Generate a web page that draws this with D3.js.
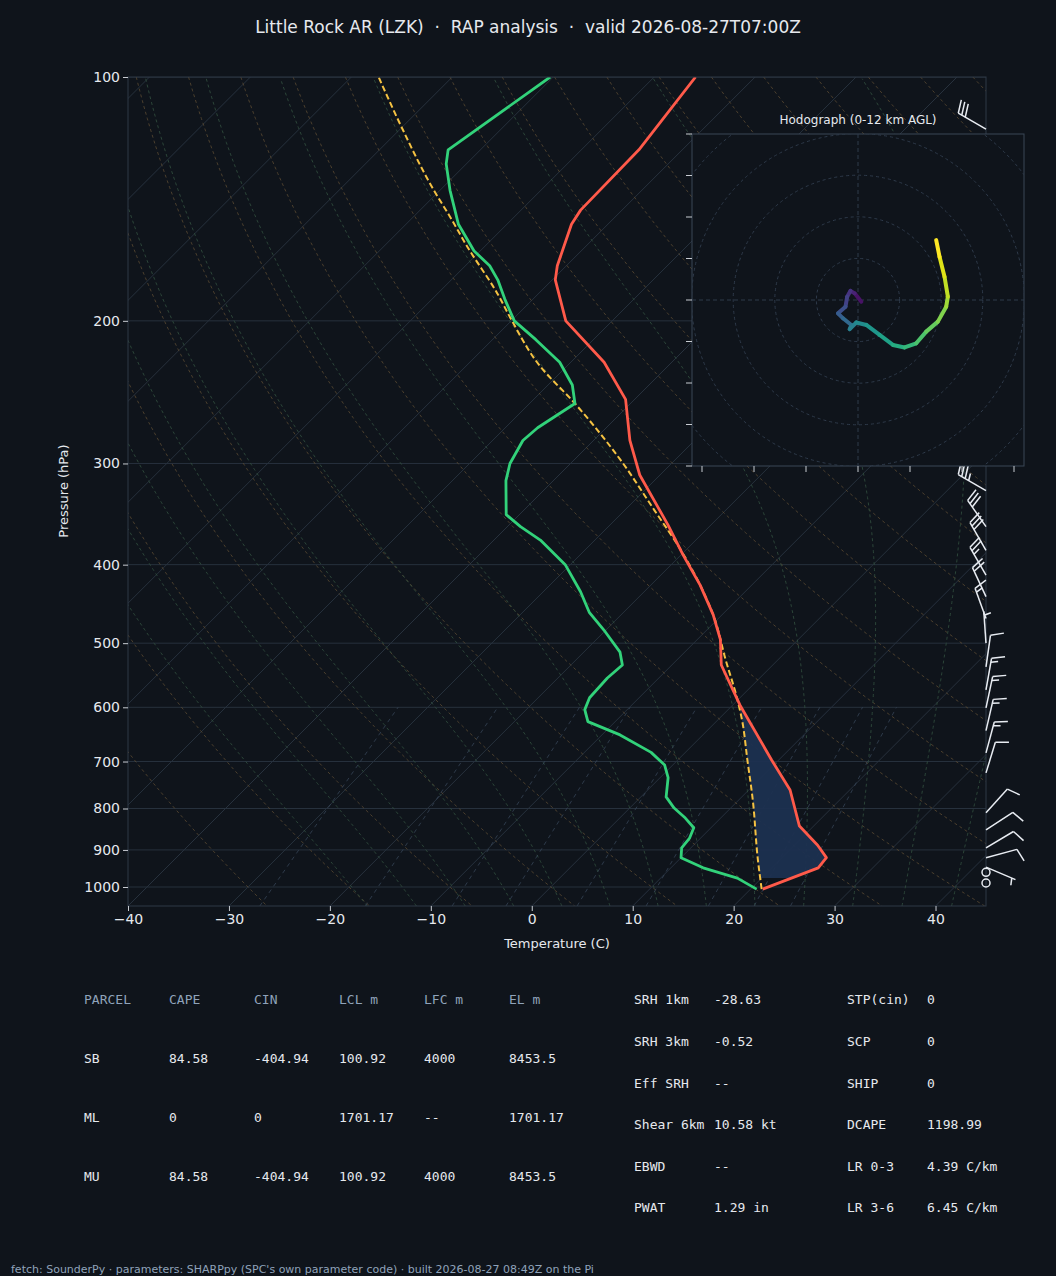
<!DOCTYPE html>
<html><head><meta charset="utf-8">
<script src="https://cdn.jsdelivr.net/npm/d3@7"></script>
<style>
body{margin:0;background:#0f141b;}
text{font-family:"DejaVu Sans",sans-serif;}
.mono{font-family:"DejaVu Sans Mono",monospace;}
</style></head><body>
<svg id="c" width="1056" height="1276"></svg>
<script>
// ---- data ----
var tempP  = [1006,947,920,888,841,759,697,596,532,495,461,424,389,357,310,281,250,225,200,178,171,152,146,123,100];
var tempT  = [21.2,24.6,24.4,22.3,18.6,14.1,9.3,0.7,-5.1,-7.7,-10.9,-15.1,-19.8,-24.3,-32.0,-36.4,-40.9,-46.7,-54.6,-59.7,-60.9,-63.6,-64.1,-64.3,-65.9];
var dewP   = [1006,975,947,920,895,870,845,822,799,774,733,707,682,649,625,604,584,552,532,513,484,458,432,400,373,359,347,315,300,281,271,253,240,225,211,200,188,178,171,164,152,138,128,123,100];
var dewT   = [20.6,17.6,13.2,10.0,9.1,8.9,8.3,6.5,4.4,2.5,0.8,-0.8,-3.4,-8.2,-12.7,-14.2,-14.9,-15.1,-14.9,-16.4,-19.9,-23.4,-26.3,-30.5,-35.4,-38.7,-41.3,-44.7,-46.0,-47.0,-46.8,-45.5,-47.6,-51.1,-55.7,-59.7,-62.8,-65.4,-67.6,-70.6,-74.8,-79.0,-82.0,-83.2,-80.3];
var parcelP = [1006,925,781,697,622,588,524,461,424,383,343,297,253,227,199,185,162,149,137,115,100];
var parcelT = [21.1,17.8,11.4,6.9,2.4,0.0,-5.2,-10.9,-15.1,-20.6,-27.0,-35.4,-45.5,-52.8,-60.2,-64.1,-71.7,-76.3,-81.0,-90.2,-97.3];
var hodoU = [0.8,-0.8,-1.8,-2.6,-3.0,-4.8,-3.6,-1.6,-2.0,-0.4,2.0,5.2,8.4,11.2,14.0,16.4,19.2,21.2,21.6,20.8,19.6,18.8];
var hodoV = [-0.4,1.6,2.2,0.8,-1.6,-3.2,-4.4,-6.0,-7.0,-5.4,-6.0,-8.4,-10.8,-11.4,-10.4,-7.6,-5.2,-1.6,0.8,5.6,10.4,14.4];
var barbP   = [1000,970,945,920,895,850,810,723,683,641,601,571,535,500,466,438,412,384,359,324,290,250,200,150,116];
var barbDir = [0,0,113,75,59,57,42,17,15,13,12,10,8,356,340,335,330,330,325,300,300,300,300,300,300];
var barbSpd = [0,0,5,10,10,10,10,10,15,15,15,15,10,5,15,20,25,30,30,35,35,35,35,30,30];
var pTicks = [100,200,300,400,500,600,700,800,900,1000];
var tTicks = [-40,-30,-20,-10,0,10,20,30,40];
var parcelRows = [["PARCEL","CAPE","CIN","LCL m","LFC m","EL m"],["SB","84.58","-404.94","100.92","4000","8453.5"],["ML","0","0","1701.17","--","1701.17"],["MU","84.58","-404.94","100.92","4000","8453.5"]];
var idxLeft  = [["SRH 1km","-28.63"],["SRH 3km","-0.52"],["Eff SRH","--"],["Shear 6km","10.58 kt"],["EBWD","--"],["PWAT","1.29 in"]];
var idxRight = [["STP(cin)","0"],["SCP","0"],["SHIP","0"],["DCAPE","1198.99"],["LR 0-3","4.39 C/km"],["LR 3-6","6.45 C/km"]];

var svg = d3.select("#c");
var L=128,R=986,T=77,B=906;
var x = d3.scaleLinear().domain([-40,45]).range([L,R]);
var y = d3.scaleLog().domain([100,1000]).range([T,887]);
var pBot = y.invert(B);
function sx(t,p){ return x(t) + (B - y(p)); }
function line(ps,ts,curve){ return d3.line().curve(curve||d3.curveLinear).x(function(d,i){return sx(ts[i],ps[i]);}).y(function(d){return y(d);})(ps); }

svg.append("text").attr("x",528).attr("y",33).attr("text-anchor","middle").attr("fill","#e6e9ee").attr("font-size",17)
  .style("white-space","pre").text("Little Rock AR (LZK)  ·  RAP analysis  ·  valid 2026-08-27T07:00Z");

svg.append("defs").append("clipPath").attr("id","pc").append("rect").attr("x",L).attr("y",T).attr("width",R-L).attr("height",B-T);
var g = svg.append("g").attr("clip-path","url(#pc)");
var pLev = d3.range(0,61).map(function(i){ return 100*Math.pow(pBot/100,i/60); });

// isotherms
d3.range(-130,60,10).forEach(function(t){
  g.append("path").attr("d",line([pBot,100],[t,t])).attr("stroke","#27313d").attr("stroke-width",1).attr("fill","none");
});
pTicks.forEach(function(p){
  g.append("line").attr("x1",L).attr("x2",R).attr("y1",y(p)).attr("y2",y(p)).attr("stroke","#27313d");
});
// dry adiabats
d3.range(-30,220,10).forEach(function(th){
  var ts = pLev.map(function(p){ return (th+273.15)*Math.pow(p/1000,0.2857)-273.15; });
  g.append("path").attr("d",line(pLev,ts)).attr("stroke","#5a4a32").attr("stroke-dasharray","3,3").attr("fill","none").attr("opacity",0.8);
});
// moist adiabats
function es(t){ return 6.112*Math.exp(17.67*t/(t+243.5)); }
function dTdp(Tk,p){
  var rs=0.622*es(Tk-273.15)/(p-es(Tk-273.15)),Rd=287,Lv=2.5e6,Cp=1005;
  return (1/p)*(Rd*Tk+Lv*rs)/(Cp+Lv*Lv*rs*0.622/(Rd*Tk*Tk));
}
d3.range(-20,45,5).forEach(function(t0){
  var ps=[],ts=[],t,p,tt=t0+273.15;
  for(var pp=1000;pp<pBot;pp+=5){ tt+=5*dTdp(tt,pp); }
  t=tt;
  for(p=pBot;p>=100;p-=5){ ps.push(p); ts.push(t-273.15); t-=5*dTdp(t,p); }
  g.append("path").attr("d",line(ps,ts)).attr("stroke","#2f4a3c").attr("stroke-dasharray","3,3").attr("fill","none").attr("opacity",0.9);
});
// mixing ratio
[0.4,1,2,3,5,8,12,16,20].forEach(function(w){
  var ps=[pBot,600],ts=ps.map(function(p){ var e=p*w/(622+w),l=Math.log(e/6.112); return 243.5*l/(17.67-l); });
  g.append("path").attr("d",line(ps,ts)).attr("stroke","#3a4a5e").attr("stroke-dasharray","4,4").attr("fill","none").attr("opacity",0.7);
});

// shading between parcel and temperature
var interp=function(ps,ts,p){ for(var i=0;i<ps.length-1;i++){ if(p<=ps[i]&&p>=ps[i+1]){ var f=Math.log(p/ps[i])/Math.log(ps[i+1]/ps[i]); return ts[i]+f*(ts[i+1]-ts[i]); } } return ts[ts.length-1]; };
var shadeP = d3.range(0,41).map(function(i){ return 975*Math.pow(596/975,i/40); });
var area = shadeP.map(function(p){ return [sx(interp(tempP,tempT,p),p),y(p)]; })
  .concat(shadeP.slice().reverse().map(function(p){ return [sx(interp(parcelP,parcelT,p),p),y(p)]; }));
g.append("path").attr("d",d3.line()(area)+"Z").attr("fill","#1c3050").attr("opacity",0.95);

g.append("path").attr("d",line(parcelP,parcelT,d3.curveMonotoneY)).attr("stroke","#f5c242").attr("stroke-width",2).attr("stroke-dasharray","6,3").attr("fill","none");
g.append("path").attr("d",line(tempP,tempT)).attr("stroke","#ff5a4a").attr("stroke-width",2.8).attr("fill","none").attr("stroke-linejoin","round");
g.append("path").attr("d",line(dewP,dewT)).attr("stroke","#32d27a").attr("stroke-width",2.8).attr("fill","none").attr("stroke-linejoin","round");

svg.append("rect").attr("x",L).attr("y",T).attr("width",R-L).attr("height",B-T).attr("fill","none").attr("stroke","#2e3947");

// axes
var ya = svg.append("g").attr("transform","translate("+L+",0)").call(d3.axisLeft(y).tickValues(pTicks).tickFormat(d3.format("d")).tickSize(5));
var xa = svg.append("g").attr("transform","translate(0,"+B+")").call(d3.axisBottom(x).tickValues(tTicks).tickFormat(function(d){return d<0?"\u2212"+(-d):d;}).tickSize(5));
[ya,xa].forEach(function(a){ a.select(".domain").remove(); a.selectAll("line").attr("stroke","#c8ccd2"); a.selectAll("text").attr("fill","#e6e9ee").attr("font-size",14).attr("font-family","DejaVu Sans"); });
svg.append("text").attr("transform","translate(68,491) rotate(-90)").attr("text-anchor","middle").attr("fill","#e6e9ee").attr("font-size",13).text("Pressure (hPa)");
svg.append("text").attr("x",557).attr("y",948).attr("text-anchor","middle").attr("fill","#e6e9ee").attr("font-size",13).text("Temperature (C)");

// wind barbs
var bg = svg.append("g");
barbP.forEach(function(p,i){
  var bx=R, by=y(p), s=barbSpd[i];
  if(s<2.5){ bg.append("circle").attr("cx",bx).attr("cy",by-4).attr("r",4).attr("fill","none").attr("stroke","#e8ecf2").attr("stroke-width",1.5); return; }
  var a=barbDir[i]*Math.PI/180, dx=Math.sin(a), dy=-Math.cos(a), len=32;
  var tx=bx+dx*len, ty=by+dy*len;
  bg.append("line").attr("x1",bx).attr("y1",by).attr("x2",tx).attr("y2",ty).attr("stroke","#e8ecf2").attr("stroke-width",1.5);
  var px=-dy, py=dx;
  var pos=0, rem=s;
  while(rem>=10){ var ex=tx-dx*pos, ey=ty-dy*pos; bg.append("line").attr("x1",ex).attr("y1",ey).attr("x2",ex+px*13+dx*4).attr("y2",ey+py*13+dy*4).attr("stroke","#e8ecf2").attr("stroke-width",1.5); pos+=4; rem-=10; }
  if(rem>=5){ if(pos===0)pos=4; var ex2=tx-dx*pos, ey2=ty-dy*pos; bg.append("line").attr("x1",ex2).attr("y1",ey2).attr("x2",ex2+px*7+dx*2).attr("y2",ey2+py*7+dy*2).attr("stroke","#e8ecf2").attr("stroke-width",1.5); }
});

// hodograph
var hx=692,hy=134,hs=332,cx=858,cy=300,k=4.16;
var hg=svg.append("g");
hg.append("rect").attr("x",hx).attr("y",hy).attr("width",hs).attr("height",hs).attr("fill","#0f141b").attr("stroke","#3a4656");
hg.append("defs").append("clipPath").attr("id","hc").append("rect").attr("x",hx).attr("y",hy).attr("width",hs).attr("height",hs);
var hc=hg.append("g").attr("clip-path","url(#hc)");
[10,20,30,40,50].forEach(function(r){ hc.append("circle").attr("cx",cx).attr("cy",cy).attr("r",r*k).attr("fill","none").attr("stroke","#2e3a4a").attr("stroke-dasharray","3,3"); });
hc.append("line").attr("x1",hx).attr("x2",hx+hs).attr("y1",cy).attr("y2",cy).attr("stroke","#2e3a4a").attr("stroke-dasharray","4,3");
hc.append("line").attr("y1",hy).attr("y2",hy+hs).attr("x1",cx).attr("x2",cx).attr("stroke","#2e3a4a").attr("stroke-dasharray","4,3");
d3.range(0,9).forEach(function(i){ hg.append("line").attr("x1",hx-6).attr("x2",hx).attr("y1",hy+i*41.5).attr("y2",hy+i*41.5).attr("stroke","#c8ccd2"); });
d3.range(0,7).forEach(function(i){ hg.append("line").attr("y1",hy+hs).attr("y2",hy+hs+6).attr("x1",702+i*52).attr("x2",702+i*52).attr("stroke","#c8ccd2"); });
var hu=d3.scaleLinear().domain([-40,40]).range([cx-40*k,cx+40*k]);
var hv=d3.scaleLinear().domain([-40,40]).range([cy+40*k,cy-40*k]);
for(var i=0;i<hodoU.length-1;i++){
  hc.append("line").attr("x1",hu(hodoU[i])).attr("y1",hv(hodoV[i])).attr("x2",hu(hodoU[i+1])).attr("y2",hv(hodoV[i+1]))
    .attr("stroke",d3.interpolateViridis(0.05+0.95*i/(hodoU.length-2))).attr("stroke-width",4).attr("stroke-linecap","round");
}
svg.append("text").attr("x",858).attr("y",124).attr("text-anchor","middle").attr("fill","#e6e9ee").attr("font-size",12).text("Hodograph (0-12 km AGL)");

// tables
var colX=[84,169,254,339,424,509], rowY=[1004,1063,1122,1181];
parcelRows.forEach(function(r,ri){ r.forEach(function(v,ci){
  svg.append("text").attr("class","mono").attr("x",colX[ci]).attr("y",rowY[ri]).attr("font-size",13).attr("fill",ri===0?"#8fa3ba":"#e6e9ee").text(v);
}); });
var rY=[1004,1046,1088,1129,1171,1212];
idxLeft.forEach(function(r,i){
  svg.append("text").attr("class","mono").attr("x",634).attr("y",rY[i]).attr("font-size",13).attr("fill","#e6e9ee").text(r[0]);
  svg.append("text").attr("class","mono").attr("x",714).attr("y",rY[i]).attr("font-size",13).attr("fill","#e6e9ee").text(r[1]);
});
idxRight.forEach(function(r,i){
  svg.append("text").attr("class","mono").attr("x",847).attr("y",rY[i]).attr("font-size",13).attr("fill","#e6e9ee").text(r[0]);
  svg.append("text").attr("class","mono").attr("x",927).attr("y",rY[i]).attr("font-size",13).attr("fill","#e6e9ee").text(r[1]);
});
svg.append("text").attr("x",11).attr("y",1273).attr("font-size",11).attr("fill","#8fa3ba")
  .text("fetch: SounderPy · parameters: SHARPpy (SPC's own parameter code) · built 2026-08-27 08:49Z on the Pi");
</script></body></html>
